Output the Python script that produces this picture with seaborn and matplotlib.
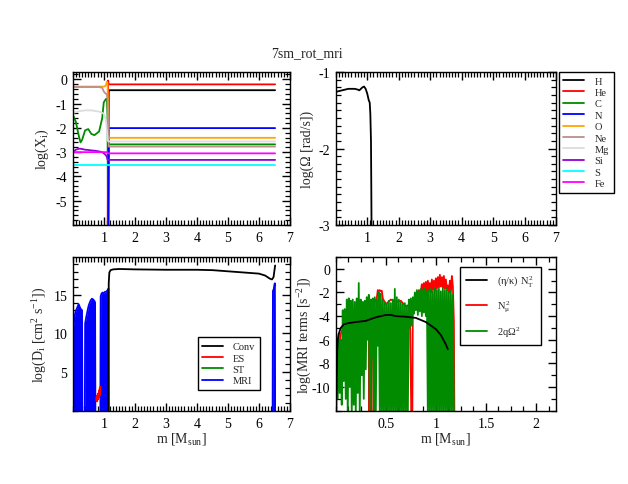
import numpy as np
import pandas as pd
import seaborn as sns
import matplotlib
matplotlib.use('Agg')
import matplotlib.pyplot as plt
from matplotlib.ticker import MultipleLocator

sns.set_style('ticks')
plt.rcParams['font.family'] = ['Liberation Serif', 'DejaVu Serif']
plt.rcParams['mathtext.fontset'] = 'custom'
plt.rcParams['mathtext.rm'] = 'Liberation Serif'
plt.rcParams['mathtext.it'] = 'Liberation Serif:italic'
plt.rcParams['axes.unicode_minus'] = False

# --- composition (top left) ---
m_comp = [0.0, 0.1, 0.2, 0.25, 0.3, 0.4, 0.5, 0.6, 0.7, 0.85, 0.95, 1.0, 1.05, 1.08, 1.1, 1.12, 1.14, 1.16, 1.2, 6.52]
x_H  = [-9, -9, -9, -9, -9, -9, -9, -9, -9, -9, -9, -9, -9, -9, -9, -9, -9, -0.45, -0.45, -0.45]
x_He = [-9, -9, -9, -9, -9, -9, -9, -9, -9, -9, -9, -9, -9, -9, -9, -9, -0.05, -0.21, -0.21, -0.21]
x_C  = [-1.45, -1.75, -2.35, -2.6, -2.5, -2.1, -2.05, -2.25, -2.3, -2.15, -1.6, -0.95, -0.85, -0.8, -0.8, -1.5, -6.5, -2.68, -2.68, -2.68]
x_N  = [-9, -9, -9, -9, -9, -9, -9, -9, -9, -9, -9, -9, -9, -9, -9, -9, -9, -2.01, -2.01, -2.01]
x_O  = [-0.3, -0.3, -0.3, -0.3, -0.3, -0.3, -0.3, -0.3, -0.3, -0.3, -0.3, -0.3, -0.28, -0.2, -0.1, -0.15, -1.2, -2.41, -2.41, -2.41]
x_Ne = [-0.32, -0.32, -0.32, -0.32, -0.32, -0.32, -0.32, -0.32, -0.32, -0.32, -0.35, -0.5, -0.58, -0.6, -0.62, -0.8, -1.8, -2.77, -2.77, -2.77]
x_Mg = [-1.4, -1.35, -1.32, -1.3, -1.3, -1.28, -1.28, -1.28, -1.3, -1.33, -1.38, -1.42, -1.6, -1.8, -2.1, -2.4, -2.55, -2.56, -2.56, -2.56]
x_Si = [-3.02, -2.9, -2.86, -2.86, -2.87, -2.9, -2.91, -2.93, -2.94, -2.97, -3.0, -3.05, -3.1, -3.15, -3.2, -3.3, -3.32, -3.32, -3.32, -3.32]
x_S  = [-3.53, -3.53, -3.53, -3.53, -3.53, -3.53, -3.53, -3.53, -3.53, -3.53, -3.53, -3.53, -3.53, -3.53, -3.53, -3.53, -3.53, -3.53, -3.53, -3.53]
x_Fe = [-3.0, -3.0, -3.0, -3.0, -3.0, -3.0, -3.0, -3.0, -3.0, -3.0, -3.0, -3.0, -3.0, -3.0, -3.0, -3.03, -3.05, -3.05, -3.05, -3.05]
species = ['H', 'He', 'C', 'N', 'O', 'Ne', 'Mg', 'Si', 'S', 'Fe']
sp_colors = ['#000000', '#ff0000', '#008b00', '#0000ff', '#ffa500',
             '#bc8f8f', '#dcdcdc', '#9400d3', '#00ffff', '#ff00ff']

# --- rotation (top right) ---
m_omega = [0.0, 0.1, 0.2, 0.3, 0.4, 0.5, 0.6, 0.7, 0.75, 0.8, 0.85, 0.9, 0.95, 1.0, 1.05, 1.08, 1.1, 1.12, 1.13, 1.14]
log_omega = [-1.26, -1.25, -1.24, -1.23, -1.22, -1.22, -1.22, -1.23, -1.24, -1.22, -1.2, -1.19, -1.22, -1.28,
             -1.37, -1.4, -1.55, -1.9, -2.5, -3.2]

# --- diffusion coefficients (bottom left) ---
m_conv = [1.15, 1.16, 1.18, 1.22, 1.3, 1.5, 2.0, 3.0, 4.0, 4.5, 5.0, 5.5, 6.0, 6.2, 6.35, 6.42, 6.47, 6.5, 6.52]
D_conv = [0.0, 16.5, 17.9, 18.2, 18.3, 18.35, 18.3, 18.25, 18.25, 18.2, 18.05, 17.9, 17.75, 17.5, 17.1, 17.0, 17.3, 18.2, 18.8]
m_es = [0.76, 0.77, 0.78, 0.79, 0.8, 0.81, 0.82, 0.83, 0.84, 0.85, 0.86, 0.87, 0.88, 0.89]
D_es = [1.3, 1.8, 1.2, 2.0, 1.4, 2.1, 1.5, 2.3, 1.7, 2.6, 1.9, 2.9, 2.2, 3.1]
m_st = [0.5, 1.0]
D_st = [-5.0, -5.0]
mri_seg = [1, 1, 1, 1, 1, 1, 1, 1, 1, 1, 1, 1, 1,
           2, 2, 2, 2, 2, 2, 2, 2, 2, 2, 2, 2, 2,
           3, 3, 3, 3, 3, 3, 3, 3, 3, 3,
           4, 4, 4, 4, 4]
m_mri = [0.0, 0.005, 0.03, 0.06, 0.09, 0.12, 0.15, 0.19, 0.22, 0.25, 0.28, 0.30, 0.31,
         0.39, 0.40, 0.43, 0.46, 0.49, 0.52, 0.55, 0.58, 0.62, 0.66, 0.70, 0.72, 0.73,
         0.89, 0.90, 0.93, 0.97, 1.0, 1.04, 1.08, 1.12, 1.15, 1.16,
         6.44, 6.45, 6.48, 6.51, 6.52]
D_mri = [0.0, 10.0, 11.0, 12.2, 12.8, 13.1, 13.4, 13.8, 13.5, 13.2, 13.1, 13.0, 0.0,
         0.0, 11.3, 12.0, 12.6, 13.2, 13.7, 14.0, 14.3, 14.5, 14.4, 14.2, 14.0, 0.0,
         0.0, 14.8, 15.2, 15.3, 15.2, 15.4, 15.4, 15.6, 15.8, 0.0,
         0.0, 15.5, 15.8, 16.5, 0.0]

# --- MRI terms (bottom right) ---
m_nt = [0.005, 0.01, 0.015, 0.02, 0.03, 0.05, 0.08, 0.12, 0.2, 0.3, 0.4, 0.5, 0.55, 0.6, 0.7, 0.8, 0.9,
        0.95, 1.0, 1.05, 1.1, 1.12]
term_nt = [-12.5, -9.0, -7.0, -6.0, -5.5, -5.0, -4.7, -4.6, -4.5, -4.4, -4.1, -3.9, -3.9, -4.0, -4.05, -4.15,
           -4.5, -4.8, -5.1, -5.6, -6.4, -6.8]
m_nmu = [0.02, 0.05, 0.1, 0.15, 0.2, 0.25, 0.3, 0.32, 0.33, 0.335, 0.34, 0.35, 0.355, 0.36, 0.375, 0.38,
         0.385, 0.39, 0.41, 0.42, 0.43, 0.44, 0.45, 0.46, 0.47, 0.5, 0.55, 0.6, 0.65, 0.7, 0.74, 0.755,
         0.765, 0.77, 0.8, 0.83, 0.85, 0.86, 0.87, 0.88, 0.89, 0.9, 0.91, 0.92, 0.93, 0.94, 0.95, 0.96,
         0.97, 0.98, 0.99, 1.0, 1.01, 1.02, 1.03, 1.04, 1.05, 1.06, 1.07, 1.08, 1.09, 1.1, 1.11, 1.12,
         1.13, 1.14, 1.15, 1.16, 1.17, 1.18, 1.185]
term_nmu = [-8.0, -5.5, -4.5, -4.0, -4.0, -4.2, -4.5, -3.9, -4.6, -12.5, -4.2, -3.6, -12.5, -3.2, -3.0, -12.5,
            -3.0, -2.8, -2.5, -1.8, -1.9, -1.8, -1.9, -1.85, -2.5, -3.0, -2.6, -2.8, -2.7, -3.2, -3.0, -12.5,
            -12.5, -2.6, -2.3, -1.8, -1.9, -1.3, -2.2, -1.2, -2.0, -1.1, -2.0, -1.0, -1.9, -1.2, -2.0, -0.9,
            -1.8, -1.0, -1.9, -0.8, -1.7, -0.7, -1.6, -0.5, -1.5, -0.7, -1.6, -0.6, -1.7, -0.9, -1.8, -1.4,
            -2.0, -1.0, -1.8, -0.6, -1.5, -4.5, -12.5]
m_shear = [0.01, 0.02, 0.03, 0.04, 0.05, 0.06, 0.07, 0.08, 0.09, 0.10, 0.11, 0.12, 0.13, 0.14, 0.15, 0.16,
           0.17, 0.18, 0.19, 0.20, 0.21, 0.22, 0.23, 0.24, 0.25, 0.26, 0.27, 0.28, 0.29, 0.30, 0.31, 0.32,
           0.33, 0.34, 0.35, 0.36, 0.37, 0.38, 0.39, 0.40, 0.41, 0.42, 0.43, 0.44, 0.45, 0.46, 0.47, 0.48,
           0.49, 0.50, 0.51, 0.52, 0.53, 0.54, 0.55, 0.56, 0.57, 0.58, 0.59, 0.60, 0.61, 0.62, 0.63, 0.64,
           0.65, 0.66, 0.67, 0.68, 0.69, 0.70, 0.71, 0.72, 0.73, 0.74, 0.75, 0.76, 0.77, 0.78, 0.79, 0.80,
           0.81, 0.82, 0.83, 0.84, 0.85, 0.86, 0.87, 0.88, 0.89, 0.90, 0.91, 0.92, 0.93, 0.94, 0.95, 0.96,
           0.97, 0.98, 0.99, 1.00, 1.01, 1.02, 1.03, 1.04, 1.05, 1.06, 1.07, 1.08, 1.09, 1.10, 1.11, 1.12,
           1.13, 1.14, 1.15, 1.16, 1.17, 1.18]
term_shear = [-6.0, -11.0, -5.5, -10.5, -6.0, -11.5, -3.5, -9.5, -3.4, -11.0, -2.6, -12.5, -2.5, -10.0, -2.7, -12.5,
              -2.6, -11.5, -2.8, -12.5, -2.5, -10.5, -1.2, -12.5, -2.6, -9.0, -2.8, -11.0, -2.7, -8.5, -2.4, -6.0,
              -2.2, -12.5, -2.6, -7.5, -2.5, -12.5, -2.4, -12.5, -2.6, -6.5, -2.0, -12.5, -2.1, -12.5, -2.6, -12.5,
              -2.8, -12.5, -3.0, -12.5, -2.7, -12.5, -2.9, -12.5, -2.6, -12.5, -1.7, -12.5, -2.4, -12.5, -2.6, -12.5,
              -2.8, -12.5, -3.0, -12.5, -2.9, -12.5, -3.1, -12.5, -2.6, -5.0, -2.5, -4.8, -2.4, -3.8, -2.0, -3.5,
              -1.8, -3.9, -1.9, -3.6, -1.7, -4.0, -1.8, -3.7, -1.6, -4.0, -1.9, -12.5, -1.8, -12.5, -1.7, -12.5,
              -1.9, -12.5, -1.6, -12.5, -1.8, -12.5, -1.7, -12.5, -1.9, -12.5, -1.6, -12.5, -1.8, -12.5, -1.7, -12.5,
              -2.0, -12.5, -1.8, -12.5, -2.2, -12.5]

GREEN = '#008b00'
LW = 1.3
LAB = 10
TICK = 10

fig = plt.figure(figsize=(6.28, 4.85), dpi=100)
ax_tl = fig.add_axes([0.1158, 0.534, 0.346, 0.3155])
ax_tr = fig.add_axes([0.5346, 0.534, 0.3508, 0.3155])
ax_bl = fig.add_axes([0.1158, 0.1511, 0.346, 0.3169])
ax_br = fig.add_axes([0.5346, 0.1511, 0.3508, 0.3169])


def style(ax, xmin, ymin):
    ax.xaxis.set_minor_locator(MultipleLocator(xmin))
    ax.yaxis.set_minor_locator(MultipleLocator(ymin))
    ax.tick_params(which='both', direction='in', top=True, right=True,
                   labelsize=TICK, color='black', labelcolor='black')
    ax.tick_params(axis='x', which='both', pad=4.5)
    ax.tick_params(axis='y', which='both', pad=4)
    ax.tick_params(which='major', length=6, width=1.0)
    ax.tick_params(which='minor', length=3.5, width=0.9)
    for sp in ax.spines.values():
        sp.set_linewidth(1.0)
        sp.set_color('black')


# top left
for name, vals, col in zip(species, [x_H, x_He, x_C, x_N, x_O, x_Ne, x_Mg, x_Si, x_S, x_Fe], sp_colors):
    sns.lineplot(x=m_comp, y=vals, ax=ax_tl, color=col, lw=LW, sort=False,
                 estimator=None, label=name, legend=False)
ax_tl.set_xlim(0, 7)
ax_tl.set_ylim(-6, 0.3)
ax_tl.set_xticks([1, 2, 3, 4, 5, 6, 7])
ax_tl.set_yticks([0, -1, -2, -3, -4, -5])
ax_tl.set_ylabel(r'log(X$_\mathrm{i}$)', fontsize=LAB)
style(ax_tl, 0.1, 0.2)

# top right
sns.lineplot(x=m_omega, y=log_omega, ax=ax_tr, color='black', lw=LW, sort=False, estimator=None)
ax_tr.set_xlim(0, 7)
ax_tr.set_ylim(-3, -1)
ax_tr.set_xticks([1, 2, 3, 4, 5, 6, 7])
ax_tr.set_yticks([-1, -2, -3])
ax_tr.set_ylabel('log(Ω [rad/s])', fontsize=LAB)
style(ax_tr, 0.1, 0.1)

h, l = ax_tl.get_legend_handles_labels()
fig.legend(h, l, loc='upper left', bbox_to_anchor=(0.8896, 0.850), borderaxespad=0,
           fontsize=7.5, frameon=True, fancybox=False, edgecolor='black', framealpha=1,
           handlelength=2.0, handletextpad=1.0, labelspacing=0.2, borderpad=0.45)

# bottom left
mri_df = pd.DataFrame({'m': m_mri, 'D': D_mri, 'seg': mri_seg})
sns.lineplot(data=mri_df, x='m', y='D', units='seg', estimator=None, sort=False,
             ax=ax_bl, color='#0000ff', lw=LW, legend=False)
for s, g in mri_df.groupby('seg'):
    ax_bl.fill_between(g['m'], 0, g['D'], color='#0000ff', lw=0)
sns.lineplot(x=m_conv, y=D_conv, ax=ax_bl, color='black', lw=LW, sort=False, estimator=None)
sns.lineplot(x=m_es, y=D_es, ax=ax_bl, color='#ff0000', lw=LW, sort=False, estimator=None)
sns.lineplot(x=m_st, y=D_st, ax=ax_bl, color=GREEN, lw=LW, sort=False, estimator=None)
ax_bl.set_xlim(0, 7)
ax_bl.set_ylim(0, 19.9)
ax_bl.set_xticks([1, 2, 3, 4, 5, 6, 7])
ax_bl.set_yticks([5, 10, 15])
ax_bl.set_xlabel(r'm [M$_\mathrm{sun}$]', fontsize=LAB)
ax_bl.set_ylabel(r'log(D$_\mathrm{i}$ [cm$^2$ s$^{-1}$])', fontsize=LAB)
style(ax_bl, 0.1, 1)
lines_bl = ax_bl.get_lines()
leg_h = [lines_bl[-3], lines_bl[-2], lines_bl[-1], lines_bl[0]]
ax_bl.legend(leg_h, ['Conv', 'ES', 'ST', 'MRI'], loc='upper left', bbox_to_anchor=(0.575, 0.478),
             borderaxespad=0, fontsize=7.5, frameon=True, fancybox=False, edgecolor='black',
             framealpha=1, handlelength=2.0, handletextpad=0.9, labelspacing=0.2, borderpad=0.45)

# bottom right
sns.lineplot(x=m_nmu, y=term_nmu, ax=ax_br, color='#ff0000', lw=LW, sort=False, estimator=None)
sns.lineplot(x=m_shear, y=term_shear, ax=ax_br, color=GREEN, lw=LW, sort=False, estimator=None)
sns.lineplot(x=m_nt, y=term_nt, ax=ax_br, color='black', lw=LW, sort=False, estimator=None)
ax_br.set_xlim(0, 2.2)
ax_br.set_ylim(-12, 1)
ax_br.set_xticks([0.5, 1, 1.5, 2])
ax_br.set_xticklabels(['0.5', '1', '1.5', '2'])
ax_br.set_yticks([0, -2, -4, -6, -8, -10])
ax_br.set_xlabel(r'm [M$_\mathrm{sun}$]', fontsize=LAB)
ax_br.set_ylabel(r'log(MRI terms [s$^{-2}$])', fontsize=LAB)
style(ax_br, 0.125, 1)
lines_br = ax_br.get_lines()
ax_br.legend([lines_br[2], lines_br[0], lines_br[1]],
             [r'(η/κ) N$_\mathrm{T}^{\,2}$', r'N$_\mathrm{\mu}^{\,2}$', r'2qΩ$^2$'],
             loc='upper left', bbox_to_anchor=(0.564, 0.933), borderaxespad=0, fontsize=7.5,
             frameon=True, fancybox=False, edgecolor='black', framealpha=1,
             handlelength=2.0, handletextpad=1.0, labelspacing=1.0, borderpad=0.6)

for ax, xc in ((ax_tl, -0.10), (ax_tr, -0.10), (ax_bl, -0.11), (ax_br, -0.10)):
    ax.yaxis.set_label_coords(xc, 0.5)
for ax in (ax_bl, ax_br):
    ax.xaxis.set_label_coords(0.5, -0.125)

fig.text(0.489, 0.889, '7sm_rot_mri', ha='center', va='center', fontsize=LAB)

fig.savefig('out.png', dpi=100)
